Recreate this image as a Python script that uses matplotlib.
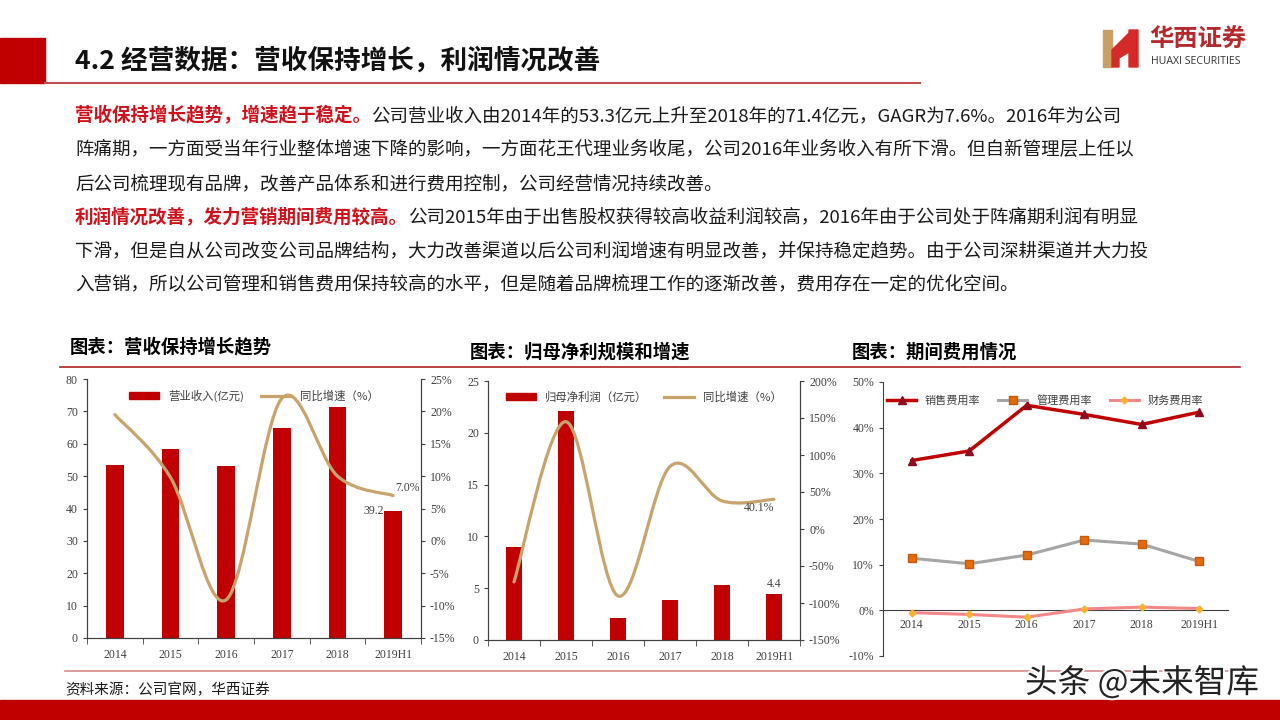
import numpy as np
import matplotlib
matplotlib.use('Agg')
import matplotlib.pyplot as plt
from matplotlib.path import Path
from matplotlib.patches import PathPatch, Rectangle, Polygon
from matplotlib.lines import Line2D
import matplotlib.patheffects as pe

plt.rcParams['font.family'] = ['Noto Sans CJK SC', 'DejaVu Sans']

# 数据
years = ['2014', '2015', '2016', '2017', '2018', '2019H1']
revenue = [53.3, 58.5, 53.2, 64.9, 71.4, 39.2]          # 营业收入(亿元)
revenue_yoy = [19.5, 9.8, -9.1, 22.0, 10.0, 7.0]        # 同比增速(%)
profit = [9.0, 22.1, 2.1, 3.85, 5.35, 4.4]             # 归母净利润(亿元)
profit_yoy = [-71.5, 145.0, -90.5, 84.5, 38.0, 40.1]    # 同比增速(%)
sales_rate = [32.8, 34.9, 44.9, 42.9, 40.7, 43.4]       # 销售费用率
admin_rate = [11.4, 10.2, 12.1, 15.4, 14.5, 10.7]       # 管理费用率
fin_rate = [-0.5, -0.9, -1.5, 0.3, 0.7, 0.4]            # 财务费用率

RED = '#C00000'
TAN = '#C8A46C'
TXT = '#404040'
SERIF = 'Liberation Serif'

fig = plt.figure(figsize=(12.8, 7.2), dpi=100)
r = fig.canvas.get_renderer()


def fx(x):
    return x / 1280


def fy(y):
    return 1 - y / 720


def smooth_path(xs, ys):
    # 类似Excel的平滑线（三次贝塞尔）
    pts = list(zip(xs, ys))
    n = len(pts)
    verts = [pts[0]]
    codes = [Path.MOVETO]
    for i in range(n - 1):
        p0 = pts[i - 1] if i > 0 else pts[i]
        p1 = pts[i]
        p2 = pts[i + 1]
        p3 = pts[i + 2] if i + 2 < n else pts[i + 1]
        c1 = (p1[0] + (p2[0] - p0[0]) / 6, p1[1] + (p2[1] - p0[1]) / 6)
        c2 = (p2[0] - (p3[0] - p1[0]) / 6, p2[1] - (p3[1] - p1[1]) / 6)
        verts += [c1, c2, p2]
        codes += [Path.CURVE4] * 3
    return Path(verts, codes)


# ---- 页眉 ----
fig.patches.append(Rectangle((0, fy(83)), fx(45), 45 / 720, transform=fig.transFigure,
                             color=RED, zorder=1))
fig.add_artist(Line2D([fx(45), fx(920)], [fy(83), fy(83)], color='#C0504D', lw=1.5))
fig.text(fx(75), fy(61), '4.2 经营数据：营收保持增长，利润情况改善', fontsize=19.2,
         fontweight='bold', color='#111111', va='center')

# logo
fig.patches.append(Rectangle((fx(1103), fy(67)), fx(9), 37 / 720, transform=fig.transFigure,
                             color='#C8A063'))
fig.patches.append(Polygon([(fx(1112), fy(50)), (fx(1129), fy(33)), (fx(1129), fy(30)),
                            (fx(1138), fy(30)), (fx(1138), fy(67)), (fx(1129), fy(67)),
                            (fx(1129), fy(52)), (fx(1119), fy(58)), (fx(1119), fy(67)),
                            (fx(1112), fy(67))], closed=True, transform=fig.transFigure,
                           color='#D42A2A'))
fig.text(fx(1149), fy(40), '华西证券', fontsize=17.5, fontweight='bold', color='#B5292C', va='center')
fig.text(fx(1151), fy(61), 'HUAXI SECURITIES', fontsize=7.6, color='#333333', va='center',
         family=['Open Sans', 'DejaVu Sans'])

# ---- 正文 ----
body = [
    (116, '营收保持增长趋势，增速趋于稳定。',
     '公司营业收入由2014年的53.3亿元上升至2018年的71.4亿元，GAGR为7.6%。2016年为公司'),
    (150, '', '阵痛期，一方面受当年行业整体增速下降的影响，一方面花王代理业务收尾，公司2016年业务收入有所下滑。但自新管理层上任以'),
    (184, '', '后公司梳理现有品牌，改善产品体系和进行费用控制，公司经营情况持续改善。'),
    (217, '利润情况改善，发力营销期间费用较高。',
     '公司2015年由于出售股权获得较高收益利润较高，2016年由于公司处于阵痛期利润有明显'),
    (251, '', '下滑，但是自从公司改变公司品牌结构，大力改善渠道以后公司利润增速有明显改善，并保持稳定趋势。由于公司深耕渠道并大力投'),
    (284, '', '入营销，所以公司管理和销售费用保持较高的水平，但是随着品牌梳理工作的逐渐改善，费用存在一定的优化空间。'),
]
for y, bold, rest in body:
    x = 75
    if bold:
        t = fig.text(fx(x), fy(y), bold, fontsize=13.35, fontweight='bold', color='#D0101A', va='center')
        x = t.get_window_extent(renderer=r).x1
    fig.text(fx(x), fy(y), rest, fontsize=13.35, color='#1A1A1A', va='center')

# 图表标题
fig.text(fx(70), fy(347), '图表：营收保持增长趋势', fontsize=13.2, fontweight='bold', va='center')
fig.text(fx(470), fy(352), '图表：归母净利规模和增速', fontsize=13.2, fontweight='bold', va='center')
fig.text(fx(852), fy(352), '图表：期间费用情况', fontsize=13.2, fontweight='bold', va='center')
fig.add_artist(Line2D([fx(60), fx(1240)], [fy(367), fy(367)], color='#B22020', lw=1.2))

x = np.arange(len(years))


def style_bar_axes(ax, ax2):
    ax.spines['top'].set_visible(False)
    ax2.spines['top'].set_visible(False)
    for a in (ax, ax2):
        for s in a.spines.values():
            s.set_color('#404040')
            s.set_linewidth(0.8)
    ax.set_xlim(-0.5, 5.5)
    ax.set_xticks(x)
    ax.set_xticklabels(years)
    ax.set_xticks(np.arange(-0.5, 6, 1), minor=True)
    ax.tick_params(axis='x', which='major', length=0, pad=8)
    ax.tick_params(axis='x', which='minor', length=4, direction='out', color='#404040')
    ax.tick_params(axis='y', length=3, direction='out', color='#404040')
    ax2.tick_params(axis='y', length=3, direction='out', color='#404040')
    for a in (ax, ax2):
        for lab in a.get_xticklabels() + a.get_yticklabels():
            lab.set_fontfamily(SERIF)
            lab.set_fontsize(8.5)
            lab.set_color(TXT)


# ---- 图1 营收 ----
ax1 = fig.add_axes([fx(87), fy(638), 334 / 1280, 259 / 720])
ax1b = ax1.twinx()
ax1.bar(x, revenue, width=0.32, color=RED, zorder=2)
ax1.set_ylim(0, 80)
ax1.set_yticks(np.arange(0, 81, 10))
ax1b.set_ylim(-15, 25)
ax1b.set_yticks(np.arange(-15, 26, 5))
ax1b.set_yticklabels([f'{v}%' for v in range(-15, 26, 5)])
ax1b.add_patch(PathPatch(smooth_path(x, revenue_yoy), fill=False, ec=TAN, lw=2.3, capstyle='round'))
style_bar_axes(ax1, ax1b)
ax1.text(4.83, revenue[5], f'{revenue[5]}', ha='right', va='center', fontsize=8.5,
         family=SERIF, color=TXT)
ax1b.text(5.03, revenue_yoy[5] + 0.3, f'{revenue_yoy[5]:.1f}%', ha='left', va='bottom',
          fontsize=8.5, family=SERIF, color=TXT)
ax1b.legend([Rectangle((0, 0), 1, 1, color=RED), Line2D([], [], color=TAN, lw=2.3)],
            ['营业收入(亿元)', '同比增速（%）'], ncol=2, loc='upper center',
            bbox_to_anchor=(0.5, 1.0), frameon=False, fontsize=8.2, handlelength=2.6,
            handleheight=0.6, columnspacing=1.5, labelcolor=TXT)

# ---- 图2 归母净利润 ----
ax2 = fig.add_axes([fx(488), fy(640), 312 / 1280, 259 / 720])
ax2b = ax2.twinx()
ax2.bar(x, profit, width=0.32, color=RED, zorder=2)
ax2.set_ylim(0, 25)
ax2.set_yticks(np.arange(0, 26, 5))
ax2b.set_ylim(-150, 200)
ax2b.set_yticks(np.arange(-150, 201, 50))
ax2b.set_yticklabels([f'{v}%' for v in range(-150, 201, 50)])
ax2b.add_patch(PathPatch(smooth_path(x, profit_yoy), fill=False, ec=TAN, lw=2.3, capstyle='round'))
style_bar_axes(ax2, ax2b)
ax2b.text(4.72, profit_yoy[5] - 4, f'{profit_yoy[5]:.1f}%', ha='center', va='top', fontsize=8.5,
          family=SERIF, color=TXT)
ax2.text(5.0, profit[5] + 0.4, f'{profit[5]}', ha='center', va='bottom', fontsize=8.5,
         family=SERIF, color=TXT)
ax2b.legend([Rectangle((0, 0), 1, 1, color=RED), Line2D([], [], color=TAN, lw=2.3)],
            ['归母净利润（亿元）', '同比增速（%）'], ncol=2, loc='upper center',
            bbox_to_anchor=(0.5, 1.0), frameon=False, fontsize=8.2, handlelength=2.6,
            handleheight=0.6, columnspacing=1.5, labelcolor=TXT)

# ---- 图3 期间费用 ----
ax3 = fig.add_axes([fx(883), fy(656), 345 / 1280, 274 / 720])
ax3.plot(x, sales_rate, color=RED, lw=2.5, marker='^', ms=6, mfc='#8E0A1E', mec='#8E0A1E',
         label='销售费用率', zorder=3)
ax3.plot(x, admin_rate, color='#A5A5A5', lw=2.2, marker='s', ms=6, mfc='#E46C0A', mec='#C55A11',
         label='管理费用率', zorder=3)
ax3.plot(x, fin_rate, color='#F4878A', lw=2.2, marker='D', ms=3.5, mfc='#F5B335', mec='#F5B335',
         label='财务费用率', zorder=3)
ax3.set_xlim(-0.5, 5.5)
ax3.set_ylim(-10, 50)
ax3.set_yticks(np.arange(-10, 51, 10))
ax3.set_yticklabels([f'{v}%' for v in range(-10, 51, 10)])
ax3.set_xticks(x)
ax3.set_xticklabels(years)
ax3.spines['top'].set_visible(False)
ax3.spines['right'].set_visible(False)
ax3.spines['bottom'].set_position(('data', 0))
for s in ax3.spines.values():
    s.set_color('#404040')
    s.set_linewidth(0.8)
ax3.tick_params(axis='x', length=0, pad=6)
ax3.tick_params(axis='y', length=3, direction='out', color='#404040')
for lab in ax3.get_xticklabels() + ax3.get_yticklabels():
    lab.set_fontfamily(SERIF)
    lab.set_fontsize(8.5)
    lab.set_color(TXT)
ax3.legend(ncol=3, loc='upper center', bbox_to_anchor=(0.47, 0.99), frameon=False, fontsize=8,
           handlelength=2.6, columnspacing=1.6, labelcolor=TXT)

# ---- 页脚 ----
fig.add_artist(Line2D([fx(65), fx(1240)], [fy(671), fy(671)], color='#D9878A', lw=1.2))
fig.text(fx(65), fy(690), '资料来源：公司官网，华西证券', fontsize=10.5, color='#1A1A1A', va='center')
fig.patches.append(Rectangle((0, 0), 1, 20 / 720, transform=fig.transFigure, color=RED))
fig.text(fx(1025), fy(683), '头条 @未来智库', fontsize=23.5, color='#222222', va='center',
         path_effects=[pe.withStroke(linewidth=3, foreground='white')])

fig.savefig('out.png', dpi=100)
